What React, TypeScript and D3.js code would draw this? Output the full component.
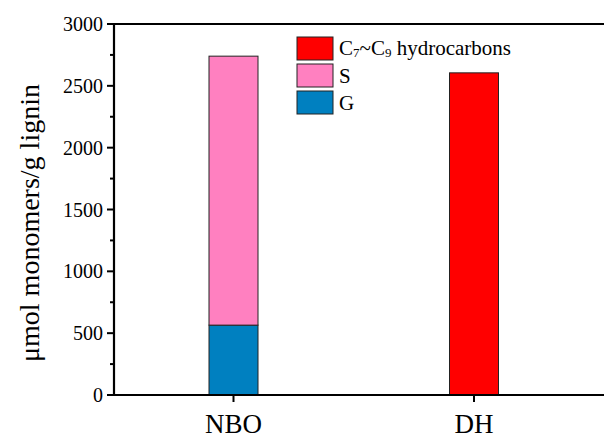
import React from "react";
import * as d3 from "d3";

const categories = ["NBO", "DH"];
const gValues = [565, 0];
const sValues = [2175, 0];
const hcValues = [0, 2605];
const yTicks = [0, 500, 1000, 1500, 2000, 2500, 3000];
const yMinorTicks = [250, 750, 1250, 1750, 2250, 2750];

const COLORS = { hc: "#FF0000", s: "#FF80C0", g: "#0080C0" };
const FONT = "Liberation Serif";

export default function App() {
  const W = 604, H = 439;
  const left = 114, top = 24, bottom = 395, right = 604;
  const y = d3.scaleLinear().domain([0, 3000]).range([bottom, top]);
  const x = d3.scalePoint<string>().domain(categories).range([233.5, 474]);
  const bw = 49;

  const stacks = categories.map((c, i) => {
    const segs: { key: string; y0: number; y1: number; color: string }[] = [];
    let acc = 0;
    if (gValues[i] > 0) { segs.push({ key: "g", y0: acc, y1: acc + gValues[i], color: COLORS.g }); acc += gValues[i]; }
    if (sValues[i] > 0) { segs.push({ key: "s", y0: acc, y1: acc + sValues[i], color: COLORS.s }); acc += sValues[i]; }
    if (hcValues[i] > 0) { segs.push({ key: "hc", y0: acc, y1: acc + hcValues[i], color: COLORS.hc }); acc += hcValues[i]; }
    return { c, segs };
  });

  const legend = [
    { key: "hc", color: COLORS.hc },
    { key: "s", color: COLORS.s },
    { key: "g", color: COLORS.g },
  ];
  const tf = { fontFamily: FONT, fill: "#000" } as React.CSSProperties;

  return (
    <svg width={W} height={H} style={{ position: "absolute", left: 0, top: 0, background: "#fff" }}>
      <rect x={0} y={0} width={W} height={H} fill="#fff" />
      {stacks.map(st =>
        st.segs.map(sg => (
          <rect key={st.c + sg.key}
            x={(x(st.c) as number) - bw / 2}
            y={y(sg.y1)}
            width={bw}
            height={y(sg.y0) - y(sg.y1)}
            fill={sg.color} stroke="#222" strokeWidth={1} />
        ))
      )}
      <line x1={left} x2={right} y1={top} y2={top} stroke="#000" strokeWidth={2.2} />
      <line x1={left - 6} x2={right} y1={bottom} y2={bottom} stroke="#000" strokeWidth={2.2} />
      <line x1={left} x2={left} y1={top - 1} y2={bottom + 1} stroke="#000" strokeWidth={2.2} />
      {yTicks.map(t => (
        <g key={t}>
          <line x1={left - 7} x2={left} y1={y(t)} y2={y(t)} stroke="#000" strokeWidth={2} />
          <text x={103} y={y(t)} dy="0.35em" textAnchor="end" fontSize={20} style={tf}>{t}</text>
        </g>
      ))}
      {yMinorTicks.map(t => (
        <line key={t} x1={left - 4} x2={left} y1={y(t)} y2={y(t)} stroke="#000" strokeWidth={2} />
      ))}
      {categories.map(c => (
        <g key={c}>
          <line x1={x(c)} x2={x(c)} y1={bottom} y2={bottom + 7} stroke="#000" strokeWidth={2} />
          <text x={x(c)} y={433} textAnchor="middle" fontSize={27} style={tf}>{c}</text>
        </g>
      ))}
      <text transform={`translate(39,223) rotate(-90)`} textAnchor="middle" fontSize={28} style={tf}>μmol monomers/g lignin</text>
      {legend.map((l, i) => (
        <g key={l.key} transform={`translate(297,${37 + i * 27})`}>
          <rect x={0} y={0} width={36} height={23} fill={l.color} stroke="#222" strokeWidth={1} />
          {l.key === "hc" ? (
            <text x={42} y={18} fontSize={21} style={tf}>
              C<tspan fontSize={13} dy={2}>7</tspan><tspan dy={-2}>~C</tspan><tspan fontSize={13} dy={2}>9</tspan><tspan dy={-2}> hydrocarbons</tspan>
            </text>
          ) : (
            <text x={42} y={19} fontSize={21} style={tf}>{l.key === "s" ? "S" : "G"}</text>
          )}
        </g>
      ))}
    </svg>
  );
}
